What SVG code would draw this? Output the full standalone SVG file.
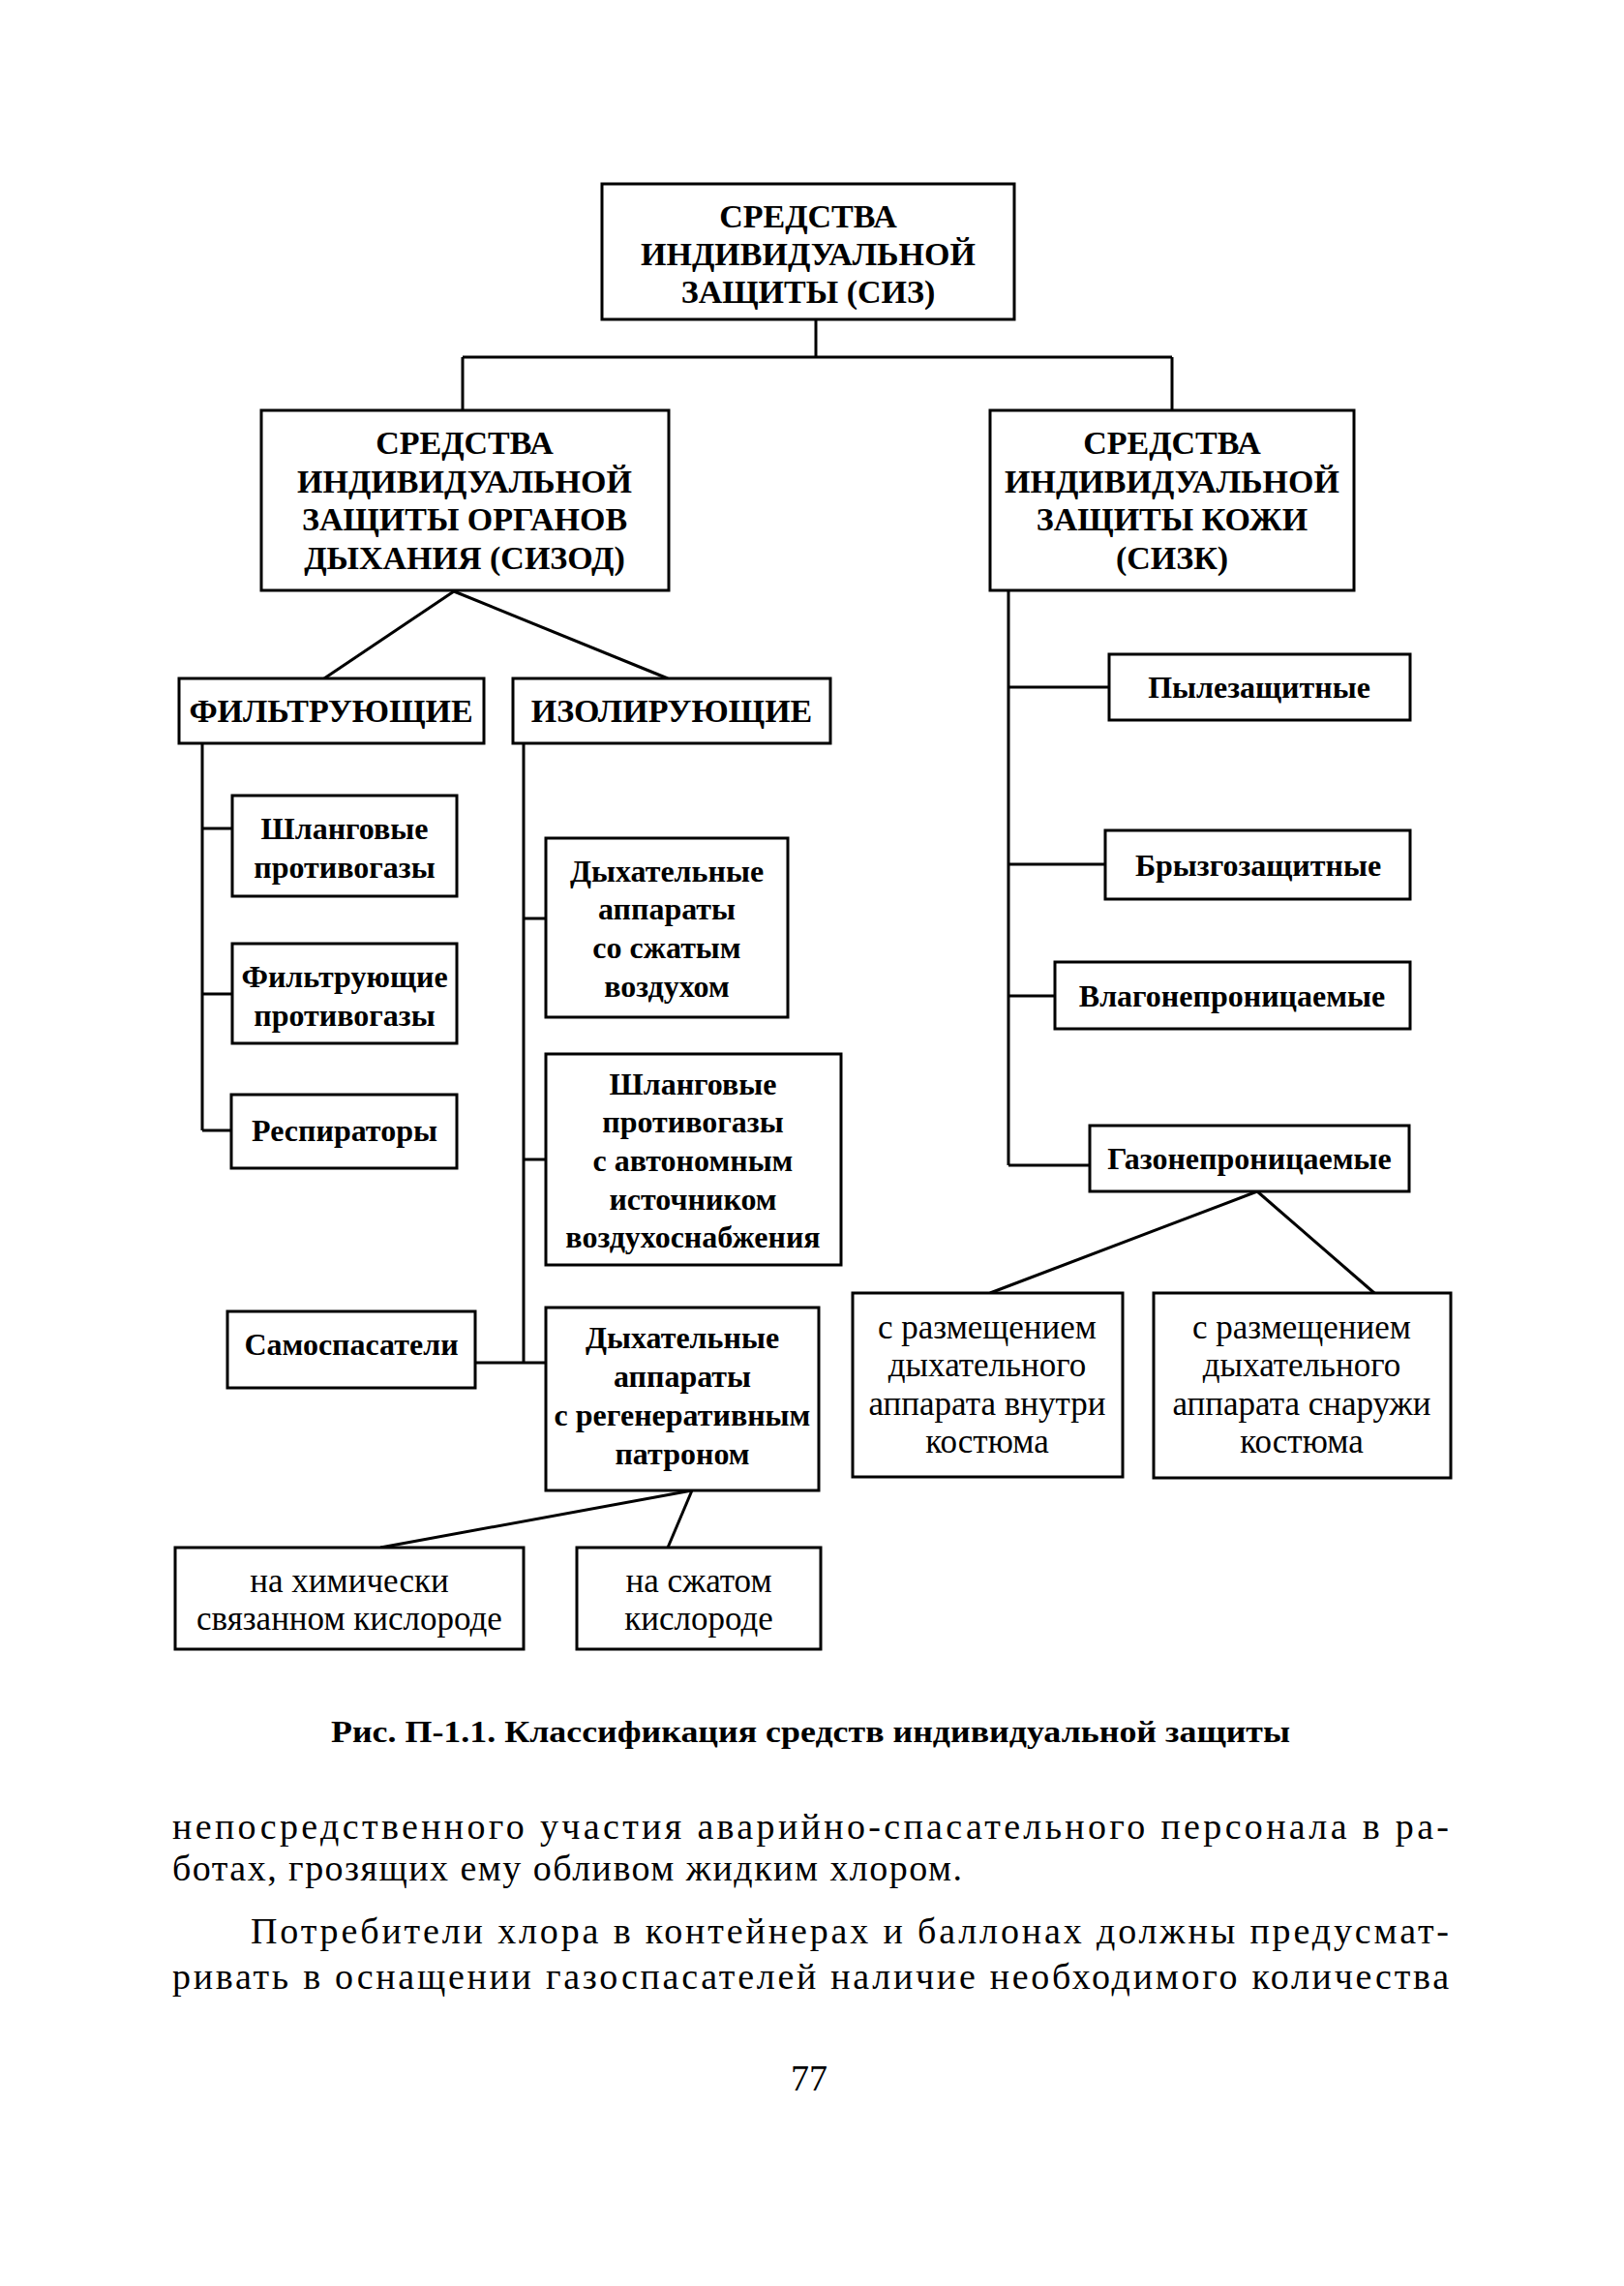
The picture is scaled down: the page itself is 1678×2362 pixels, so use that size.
<svg xmlns="http://www.w3.org/2000/svg" width="1678" height="2362" viewBox="0 0 1678 2362">
<style>
.bg{fill:#fff}
rect.n{fill:#fff;stroke:#000;stroke-width:3}
.c line,.c polyline{stroke:#000;stroke-width:3;fill:none}
text{font-family:"Liberation Serif","Times New Roman",serif;fill:#000;text-anchor:middle}
.h{font-weight:bold;font-size:34px}
.b{font-weight:bold;font-size:32px}
.r{font-size:35px}
.body{font-size:38px;text-anchor:start}
.cap{font-weight:bold;font-size:32px;text-anchor:start}
</style>
<rect class="bg" x="0" y="0" width="1678" height="2362"/>
<g class="c" id="connectors">
<line x1="843" y1="330" x2="843" y2="369"/>
<line x1="478" y1="369" x2="1211" y2="369"/>
<line x1="478" y1="369" x2="478" y2="424"/>
<line x1="1211" y1="369" x2="1211" y2="424"/>
<line x1="469" y1="611" x2="335" y2="701"/>
<line x1="469" y1="611" x2="690" y2="701"/>
<line x1="209" y1="768" x2="209" y2="1168"/>
<line x1="209" y1="856" x2="240" y2="856"/>
<line x1="209" y1="1027" x2="240" y2="1027"/>
<line x1="209" y1="1168" x2="240" y2="1168"/>
<line x1="541" y1="768" x2="541" y2="1408"/>
<line x1="541" y1="949" x2="564" y2="949"/>
<line x1="541" y1="1198" x2="564" y2="1198"/>
<line x1="491" y1="1408" x2="564" y2="1408"/>
<line x1="715" y1="1540" x2="393" y2="1599"/>
<line x1="715" y1="1540" x2="690" y2="1599"/>
<line x1="1042" y1="610" x2="1042" y2="1204"/>
<line x1="1042" y1="710" x2="1146" y2="710"/>
<line x1="1042" y1="893" x2="1142" y2="893"/>
<line x1="1042" y1="1029" x2="1090" y2="1029"/>
<line x1="1042" y1="1204" x2="1126" y2="1204"/>
<line x1="1299" y1="1231" x2="1023" y2="1336"/>
<line x1="1299" y1="1231" x2="1420" y2="1336"/>
</g>
<g id="siz"><rect class="n" x="622" y="190" width="426" height="140"/>
<text class="h" x="835" y="235">СРЕДСТВА</text><text class="h" x="835" y="274">ИНДИВИДУАЛЬНОЙ</text><text class="h" x="835" y="313">ЗАЩИТЫ (СИЗ)</text></g>
<g id="sizod"><rect class="n" x="270" y="424" width="421" height="186"/>
<text class="h" x="480" y="469">СРЕДСТВА</text><text class="h" x="480" y="509">ИНДИВИДУАЛЬНОЙ</text><text class="h" x="480" y="548">ЗАЩИТЫ ОРГАНОВ</text><text class="h" x="480" y="588">ДЫХАНИЯ (СИЗОД)</text></g>
<g id="sizk"><rect class="n" x="1023" y="424" width="376" height="186"/>
<text class="h" x="1211" y="469">СРЕДСТВА</text><text class="h" x="1211" y="509">ИНДИВИДУАЛЬНОЙ</text><text class="h" x="1211" y="548">ЗАЩИТЫ КОЖИ</text><text class="h" x="1211" y="588">(СИЗК)</text></g>
<g id="filt"><rect class="n" x="185" y="701" width="315" height="67"/>
<text class="h" x="342" y="746" font-size="33">ФИЛЬТРУЮЩИЕ</text></g>
<g id="izol"><rect class="n" x="530" y="701" width="328" height="67"/>
<text class="h" x="694" y="746" font-size="33">ИЗОЛИРУЮЩИЕ</text></g>
<g id="shl1"><rect class="n" x="240" y="822" width="232" height="104"/>
<text class="b" x="356" y="867">Шланговые</text><text class="b" x="356" y="907">противогазы</text></g>
<g id="filtprot"><rect class="n" x="240" y="975" width="232" height="103"/>
<text class="b" x="356" y="1020">Фильтрующие</text><text class="b" x="356" y="1060">противогазы</text></g>
<g id="resp"><rect class="n" x="239" y="1131" width="233" height="76"/>
<text class="b" x="356" y="1179">Респираторы</text></g>
<g id="dyh1"><rect class="n" x="564" y="866" width="250" height="185"/>
<text class="b" x="689" y="911">Дыхательные</text><text class="b" x="689" y="950">аппараты</text><text class="b" x="689" y="990">со сжатым</text><text class="b" x="689" y="1030">воздухом</text></g>
<g id="shl2"><rect class="n" x="564" y="1089" width="305" height="218"/>
<text class="b" x="716" y="1131">Шланговые</text><text class="b" x="716" y="1170">противогазы</text><text class="b" x="716" y="1210">с автономным</text><text class="b" x="716" y="1250">источником</text><text class="b" x="716" y="1289">воздухоснабжения</text></g>
<g id="samosp"><rect class="n" x="235" y="1355" width="256" height="79"/>
<text class="b" x="363" y="1400">Самоспасатели</text></g>
<g id="dyh2"><rect class="n" x="564" y="1351" width="282" height="189"/>
<text class="b" x="705" y="1393">Дыхательные</text><text class="b" x="705" y="1433">аппараты</text><text class="b" x="705" y="1473">с регенеративным</text><text class="b" x="705" y="1513">патроном</text></g>
<g id="chem"><rect class="n" x="181" y="1599" width="360" height="105"/>
<text class="r" x="361" y="1645">на химически</text><text class="r" x="361" y="1684">связанном кислороде</text></g>
<g id="compr"><rect class="n" x="596" y="1599" width="252" height="105"/>
<text class="r" x="722" y="1645">на сжатом</text><text class="r" x="722" y="1684">кислороде</text></g>
<g id="pyl"><rect class="n" x="1146" y="676" width="311" height="68"/>
<text class="b" x="1301" y="721">Пылезащитные</text></g>
<g id="bryzg"><rect class="n" x="1142" y="858" width="315" height="71"/>
<text class="b" x="1300" y="905">Брызгозащитные</text></g>
<g id="vlag"><rect class="n" x="1090" y="994" width="367" height="69"/>
<text class="b" x="1273" y="1040">Влагонепроницаемые</text></g>
<g id="gaz"><rect class="n" x="1126" y="1163" width="330" height="68"/>
<text class="b" x="1291" y="1208">Газонепроницаемые</text></g>
<g id="inside"><rect class="n" x="881" y="1336" width="279" height="190"/>
<text class="r" x="1020" y="1383">с размещением</text><text class="r" x="1020" y="1422">дыхательного</text><text class="r" x="1020" y="1462">аппарата внутри</text><text class="r" x="1020" y="1501">костюма</text></g>
<g id="outside"><rect class="n" x="1192" y="1336" width="307" height="191"/>
<text class="r" x="1345" y="1383">с размещением</text><text class="r" x="1345" y="1422">дыхательного</text><text class="r" x="1345" y="1462">аппарата снаружи</text><text class="r" x="1345" y="1501">костюма</text></g>
<text class="cap" x="342" y="1800" textLength="991" lengthAdjust="spacingAndGlyphs">Рис. П-1.1. Классификация средств индивидуальной защиты</text>
<text class="body" x="178" y="1900" textLength="1319" lengthAdjust="spacing">непосредственного участия аварийно-спасательного персонала в ра-</text>
<text class="body" x="178" y="1943" textLength="816" lengthAdjust="spacing">ботах, грозящих ему обливом жидким хлором.</text>
<text class="body" x="259" y="2008" textLength="1238" lengthAdjust="spacing">Потребители хлора в контейнерах и баллонах должны предусмат-</text>
<text class="body" x="178" y="2055" textLength="1319" lengthAdjust="spacing">ривать в оснащении газоспасателей наличие необходимого количества</text>
<text x="836" y="2160" font-size="38">77</text>
</svg>
